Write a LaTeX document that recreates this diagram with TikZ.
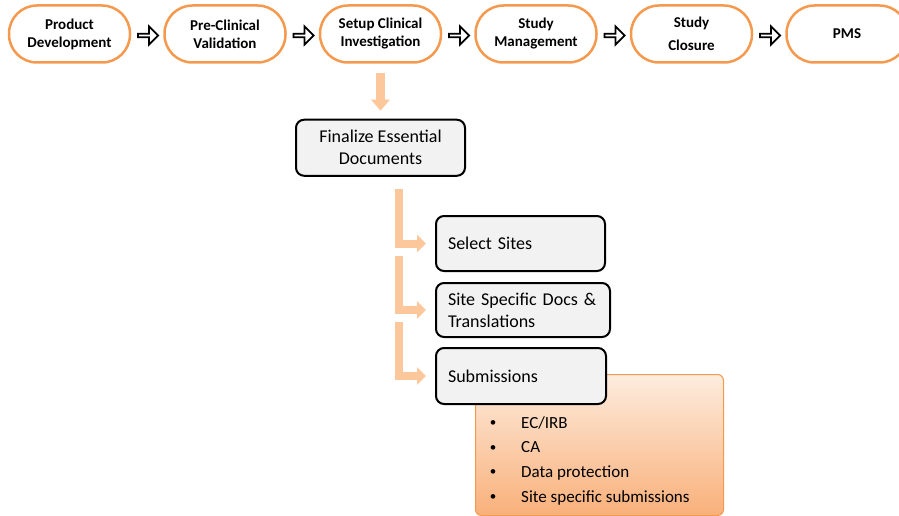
\documentclass[tikz,border=0pt]{standalone}
\usepackage{fontspec}
\setmainfont{Carlito}
\usetikzlibrary{arrows.meta, calc, positioning, shapes.arrows}

\definecolor{phaseorange}{RGB}{244,153,77}
\definecolor{peach}{RGB}{251,199,155}
\definecolor{boxgray}{RGB}{242,242,242}
\definecolor{listtop}{RGB}{253,236,222}
\definecolor{listbottom}{RGB}{249,176,122}

\begin{document}
\begin{tikzpicture}[
    x=1pt, y=-1pt,
    >=Stealth,
    node distance=32pt,
    phase/.style={rectangle, draw=phaseorange, line width=2.5pt, fill=white,
        rounded corners=28pt, minimum width=121pt, minimum height=57pt,
        align=center, font=\fontsize{15}{18}\selectfont\bfseries},
    hollow/.style={single arrow, draw=black, fill=white, line width=1.8pt,
        inner sep=0pt, minimum height=20pt, minimum width=18pt,
        single arrow head extend=4pt},
    stepbox/.style={rectangle, draw=black, line width=2pt, fill=boxgray,
        rounded corners=8pt, inner xsep=12pt, align=left,
        font=\fontsize{18}{22}\selectfont},
    listbox/.style={rectangle, draw=phaseorange, line width=1pt,
        rounded corners=6pt, top color=listtop, bottom color=listbottom,
        minimum width=248pt, minimum height=141pt},
    flow/.style={draw=peach, line width=8pt,
        -{Triangle[length=9pt, width=17pt]}, shorten >=9pt}
]

    \useasboundingbox (0,0) rectangle (899,516);

    % Phases ------------------------------------------------------

    \node[phase] (s1) at (69.5,34) {Product\\Development};
    \node[phase, right=of s1] (s2) {Pre-Clinical\\Validation};
    \node[phase, right=of s2] (s3) {Setup Clinical\\Investigation};
    \node[phase, right=of s3] (s4) {Study\\Management};
    \node[phase, right=of s4] (s5) {Study\\[5pt]Closure};
    \node[phase, right=of s5] (s6) {PMS};

    % hollow arrows between phases
    \node[hollow, yshift=-1.5pt] (a1) at ($(s1.east)!.5!(s2.west)$) {};
    \node[hollow, yshift=-1.5pt] (a2) at ($(s2.east)!.5!(s3.west)$) {};
    \node[hollow, yshift=-1.5pt] (a3) at ($(s3.east)!.5!(s4.west)$) {};
    \node[hollow, yshift=-1.5pt] (a4) at ($(s4.east)!.5!(s5.west)$) {};
    \node[hollow, yshift=-1.5pt] (a5) at ($(s5.east)!.5!(s6.west)$) {};

    % Steps -------------------------------------------------------

    \node[stepbox, below=55pt of s3, align=center, minimum width=169pt,
        minimum height=56pt] (fin) {Finalize Essential\\Documents};

    \node[listbox, anchor=north west] (list) at (475,374) {};

    \node[stepbox, anchor=west, text width=145pt, minimum height=55pt]
        (sel) at (435,243.5) {Select Sites};
    \node[stepbox, anchor=west, text width=150pt, minimum height=54pt]
        (site) at (435,310) {Site Specific Docs \&\\Translations};
    \node[stepbox, anchor=west, text width=146pt, minimum height=56pt]
        (sub) at (435,376) {Submissions};

    % bullets
    \foreach \txt [count=\i] in {EC/IRB, CA, Data protection, Site specific submissions} {
        \node[inner sep=0pt, font=\fontsize{13}{13}\selectfont]
            (b\i) at (493,{423.5+24.7*(\i-1)}) {\textbullet};
        \node[anchor=base west, inner sep=0pt, font=\fontsize{17}{20}\selectfont]
            (t\i) at (521,{428+24.7*(\i-1)}) {\txt};
    }

    % Arrows ---------------------------------------------------

    \coordinate (e1) at (399,189);
    \coordinate (e2) at (399,256);
    \coordinate (e3) at (399,322);

    \draw[draw=peach, line width=9pt, -{Triangle[length=11pt, width=18pt]},
        shorten <=9pt, shorten >=8pt] (s3) -- (fin);
    \draw[flow] (e1) |- (sel);
    \draw[flow] (e2) |- (site);
    \draw[flow] (e3) |- (sub);

\end{tikzpicture}
\end{document}
